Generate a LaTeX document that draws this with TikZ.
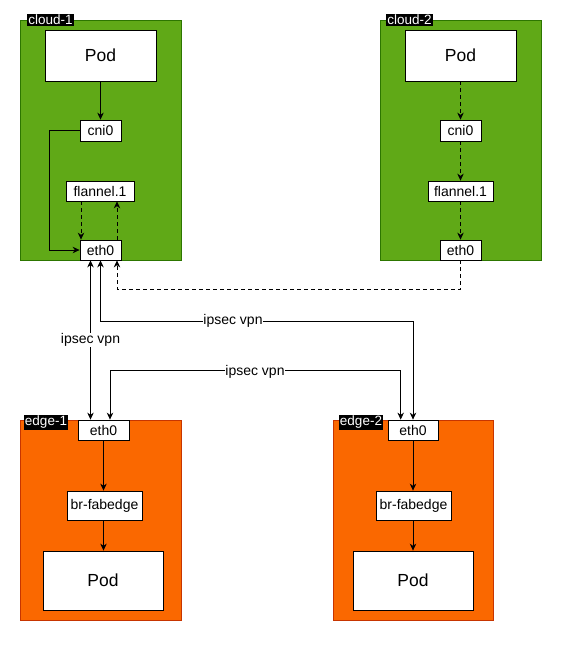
\documentclass[tikz,border=0pt]{standalone}
\usepackage{fontspec}
\setmainfont{Liberation Sans}
\usetikzlibrary{arrows.meta,calc}
\definecolor{cgreen}{HTML}{60A917}
\definecolor{cgreenline}{HTML}{2D7600}
\definecolor{corange}{HTML}{FA6800}
\definecolor{corangeline}{HTML}{C73500}
\begin{document}
\begin{tikzpicture}[x=1pt,y=-1pt,
  greenregion/.style={draw=cgreenline, fill=cgreen, line width=0.8pt, inner sep=0pt},
  orangeregion/.style={draw=corangeline, fill=corange, line width=0.8pt, inner sep=0pt},
  tag/.style={fill=black, text=white, inner sep=1pt, font=\fontsize{13.5}{15}\selectfont},
  ifbox/.style={draw=black, fill=white, line width=0.8pt, inner sep=0pt, font=\fontsize{14}{16}\selectfont},
  podbox/.style={ifbox, font=\fontsize{17.5}{20}\selectfont},
  arr/.style={draw=black, line width=0.8pt, -{Stealth[length=7pt,width=6.5pt]}},
  darr/.style={arr, dash pattern=on 4pt off 3pt},
  biarr/.style={draw=black, line width=0.8pt, {Stealth[length=7pt,width=6.5pt]}-{Stealth[length=7pt,width=6.5pt]}},
  lbl/.style={fill=white, inner sep=0.5pt, font=\fontsize{14}{16}\selectfont}
]
\useasboundingbox (0,0) rectangle (561,651);
\fill[white] (0,0) rectangle (561,651);

% regions
\node[greenregion, minimum width=161, minimum height=240] (cloud1) at (100.5,140) {};
\node[greenregion, minimum width=161, minimum height=240] (cloud2) at (460.5,140) {};
\node[orangeregion, minimum width=161, minimum height=200] (edge1) at (100.5,520) {};
\node[orangeregion, minimum width=160, minimum height=200] (edge2) at (413,520) {};

% cloud-1
\node[podbox, minimum width=111, minimum height=51] (c1pod) at (100.5,55.5) {Pod};
\node[ifbox, minimum width=41, minimum height=21] (c1cni) at (100.5,130.5) {cni0};
\node[ifbox, minimum width=68, minimum height=20] (c1fl) at (100,191) {flannel.1};
\node[ifbox, minimum width=41, minimum height=20] (c1eth) at (100.5,250) {eth0};

% cloud-2
\node[podbox, minimum width=111, minimum height=51] (c2pod) at (460.5,55.5) {Pod};
\node[ifbox, minimum width=41, minimum height=21] (c2cni) at (460.5,130.5) {cni0};
\node[ifbox, minimum width=65, minimum height=20] (c2fl) at (460.5,191) {flannel.1};
\node[ifbox, minimum width=41, minimum height=20] (c2eth) at (460.5,250) {eth0};

% edge-1
\node[ifbox, minimum width=51, minimum height=20] (e1eth) at (103.5,430) {eth0};
\node[ifbox, minimum width=75, minimum height=29] (e1br) at (104.5,505.5) {br-fabedge};
\node[podbox, minimum width=120, minimum height=59] (e1pod) at (103,580.5) {Pod};

% edge-2
\node[ifbox, minimum width=50, minimum height=20] (e2eth) at (413,430) {eth0};
\node[ifbox, minimum width=75, minimum height=29] (e2br) at (413.5,505.5) {br-fabedge};
\node[podbox, minimum width=120, minimum height=59] (e2pod) at (413,580.5) {Pod};

% tags
\node[tag] (t1) at (50.5,20) {cloud-1};
\node[tag] (t2) at (409.5,20) {cloud-2};
\node[tag] (t3) at (46,422.5) {edge-1};
\node[tag] (t4) at (361,422.5) {edge-2};

% cloud-1 connectors
\draw[arr] (c1pod.south) -- (c1cni.north);
\draw[arr] (c1cni.west) -- ($(c1cni.west)+(-30,0)$) |- (c1eth.west);
\draw[darr] ($(c1fl.south)+(-19,0)$) -- ($(c1eth.north)+(-19.5,0)$);
\draw[darr] ($(c1eth.north)+(16.5,0)$) -- ($(c1fl.south)+(17,0)$);

% cloud-2 connectors
\draw[darr] (c2pod.south) -- (c2cni.north);
\draw[darr] (c2cni.south) -- (c2fl.north);
\draw[darr] (c2fl.south) -- (c2eth.north);

% cross connectors
\draw[darr] (c2eth.south) -- ++(0,29) -| ($(c1eth.south)+(16.5,0)$);
\draw[biarr] ($(c1eth.south)+(-10,0)$) -- node[lbl] (v1) {ipsec vpn} ($(e1eth.north)+(-13,0)$);
\draw[biarr] (c1eth.south) -- ++(0,61) -| (e2eth.north);
\node[lbl] (v2) at (233,321) {ipsec vpn};
\draw[biarr] ($(e1eth.north)+(6.5,0)$) -- ++(0,-49.3) -| ($(e2eth.north)+(-12.3,0)$);
\node[lbl] (v3) at (255,372) {ipsec vpn};

% edge connectors
\draw[arr] (e1eth.south) -- (e1eth.south |- e1br.north);
\draw[arr] (e1eth.south |- e1br.south) -- (e1eth.south |- e1pod.north);
\draw[arr] (e2eth.south) -- (e2eth.south |- e2br.north);
\draw[arr] (e2eth.south |- e2br.south) -- (e2eth.south |- e2pod.north);
\end{tikzpicture}
\end{document}
